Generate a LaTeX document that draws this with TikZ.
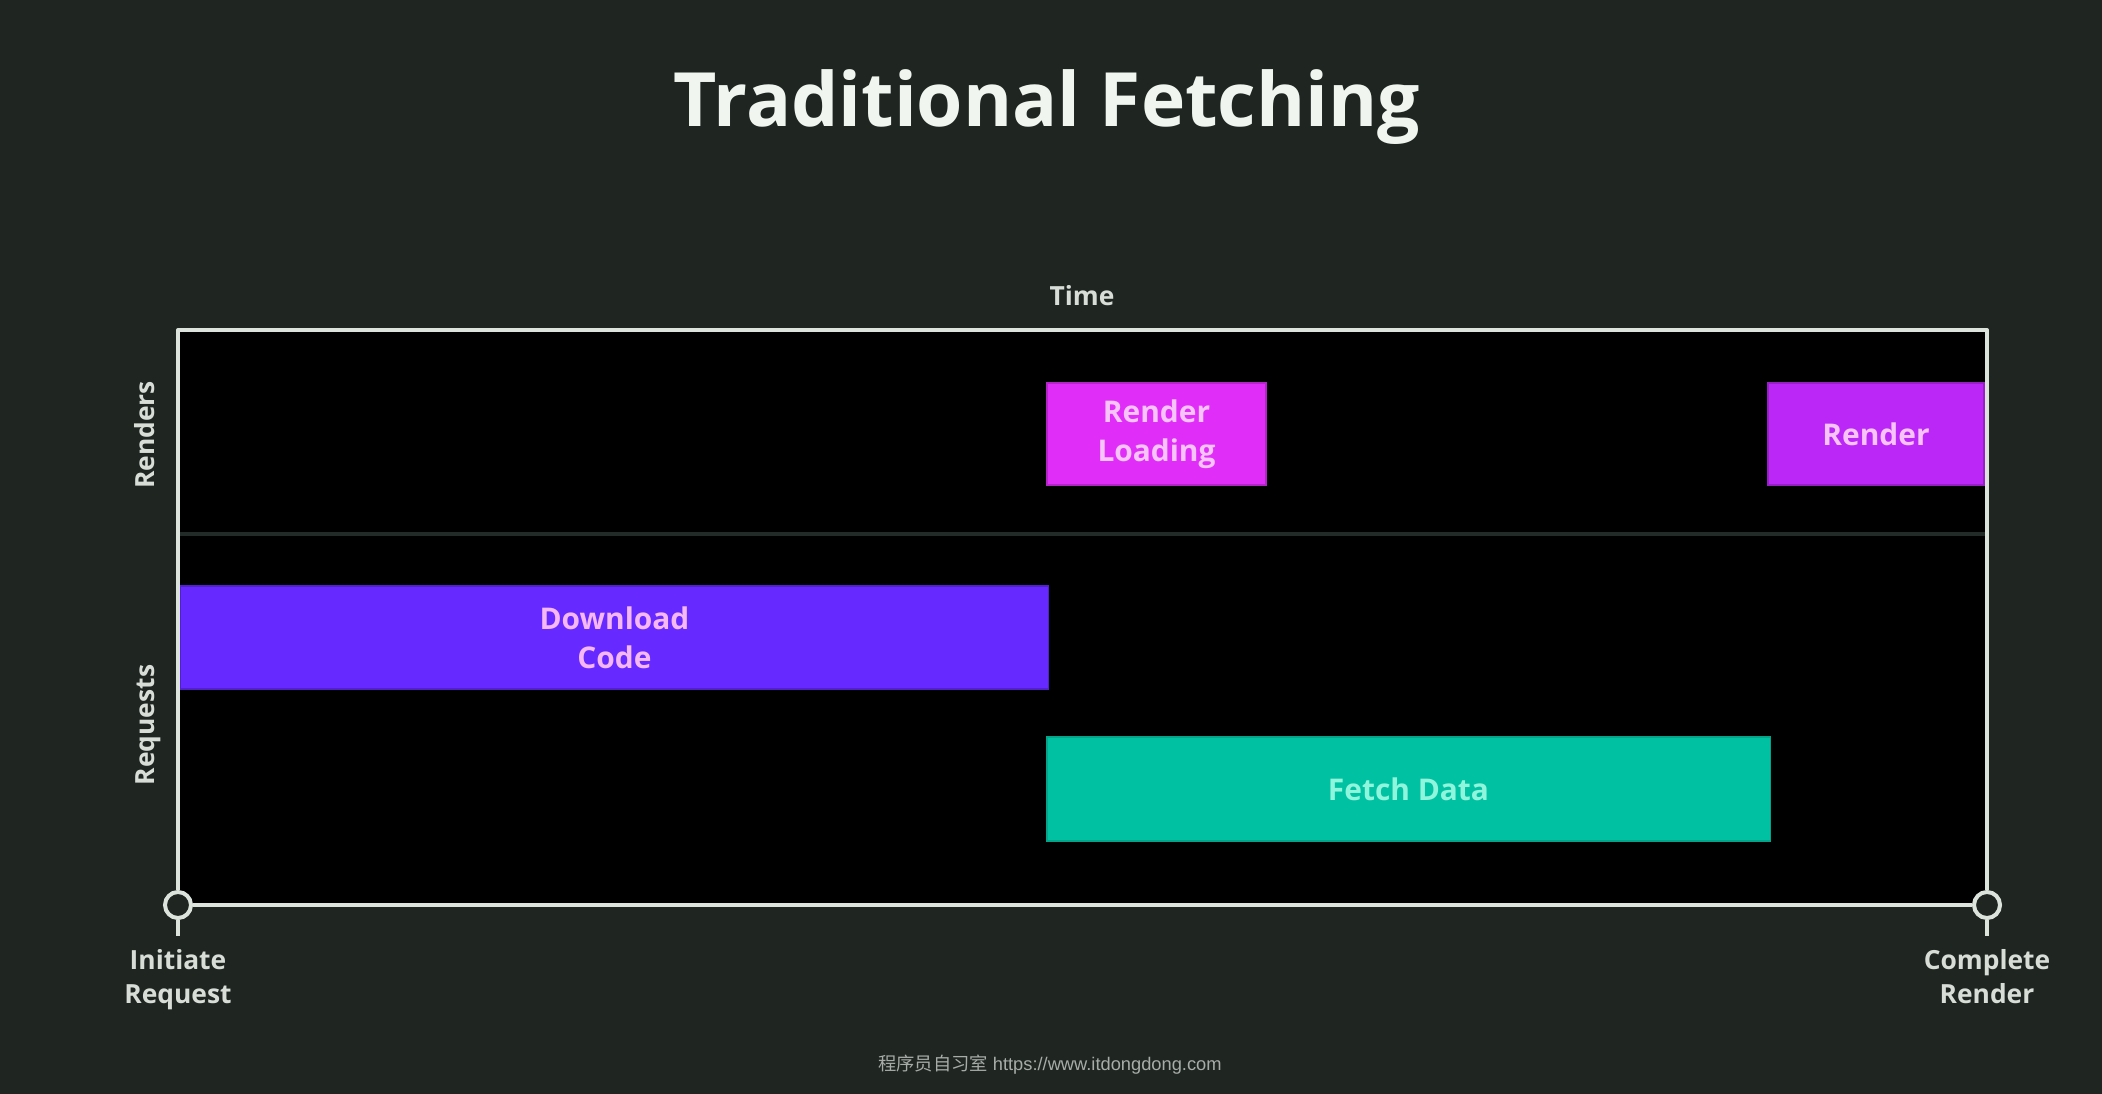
\documentclass[tikz,border=0pt]{standalone}
\usepackage{fontspec}
\setmainfont{Open Sans}
\newfontfamily\cjkfont{Noto Sans CJK SC}
\newfontfamily\footfont{Liberation Sans}
\definecolor{bg}{HTML}{1F2622}
\definecolor{framec}{HTML}{DCE3DD}
\definecolor{divc}{HTML}{222B28}
\definecolor{dlc}{HTML}{6629FF}
\definecolor{rlc}{HTML}{E02EF8}
\definecolor{rc}{HTML}{BB27F7}
\definecolor{fdc}{HTML}{00C2A2}
\definecolor{pinktxt}{HTML}{F6C4F8}
\definecolor{dltxt}{HTML}{F5B8F4}
\definecolor{fdtxt}{HTML}{8FF5DC}
\definecolor{lblc}{HTML}{D8DDD8}
\definecolor{titlec}{HTML}{F0F5F0}
\definecolor{footc}{HTML}{A8ACA8}
\begin{document}
\begin{tikzpicture}[x=0.01cm,y=-0.01cm,
  framel/.style={draw=framec,line width=1.14pt},
  pin/.style={circle,draw=framec,line width=1.14pt,fill=bg,minimum size=0.26cm,inner sep=0pt},
  bar/.style={inner sep=0pt,outer sep=0pt,align=center,font=\fontsize{8.5}{11}\selectfont\bfseries},
  lbl/.style={text=lblc,font=\fontsize{7.5}{9.5}\selectfont\bfseries,inner sep=0pt,align=center},
]
\fill[bg] (0,0) rectangle (2102,1094);
\useasboundingbox (0,0) rectangle (2102,1094);
% title
\node[text=titlec,font=\fontsize{21.3}{26}\selectfont\bfseries,anchor=base,inner sep=0pt] (title) at (1047,127) {Traditional Fetching};
% chart area
\fill[black] (178,330) rectangle (1987,905);
\coordinate (tl) at (178,330);
\coordinate (tr) at (1987,330);
\coordinate (dl) at (180,534);
\coordinate (dr) at (1985,534);
\draw[divc,line width=0.9pt] (dl) -- (dr);
% boxes
\node[bar,fill=rlc,draw=rlc!80!black,line width=0.4pt,text=pinktxt,minimum width=2.19cm,minimum height=1.02cm] (rl) at (1156.5,434) {Render\\Loading};
\node[bar,fill=rc,draw=rc!80!black,line width=0.4pt,text=pinktxt,minimum width=2.16cm,minimum height=1.02cm] (r) at (1876,434) {Render};
\node[bar,fill=dlc,draw=dlc!80!black,line width=0.4pt,text=dltxt,minimum width=8.67cm,minimum height=1.03cm] (dc) at (614.5,637.5) {Download\\Code};
\node[bar,fill=fdc,draw=fdc!85!black,line width=0.4pt,text=fdtxt,minimum width=7.23cm,minimum height=1.04cm] (fd) at (1408.5,789) {Fetch Data};
% frame
\node[pin] (start) at (178,905) {};
\node[pin] (end) at (1987,905) {};
\coordinate (ts) at (178,936);
\coordinate (te) at (1987,936);
\draw[framel,line join=round] (start.north) -- (tl) -- (tr) -- (end.north);
\draw[framel] (start.east) -- (end.west);
\draw[framel] (start.south) -- (ts);
\draw[framel] (end.south) -- (te);
% labels
\node[lbl,anchor=base] (time) at (1082,305) {Time};
\node[lbl,anchor=base,rotate=90] (renders) at (154,435) {Renders};
\node[lbl,anchor=base,rotate=90] (requests) at (154,725) {Requests};
\node[lbl,anchor=north] (init) at (178,949) {Initiate\\Request};
\node[lbl,anchor=north] (comp) at (1987,949) {Complete\\Render};
% footer
\node[text=footc,inner sep=0pt,anchor=base,font=\fontsize{5.2}{6}\selectfont] (foot) at (1050,1070) {{\cjkfont 程序员自习室} {\footfont https://www.itdongdong.com}};
\end{tikzpicture}
\end{document}
